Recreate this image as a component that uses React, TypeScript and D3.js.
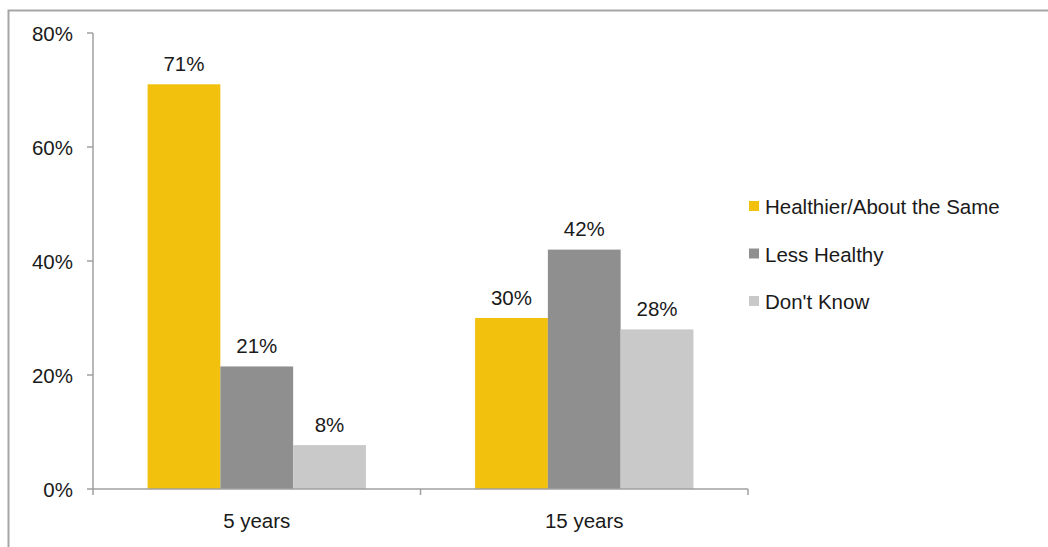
import React from "react";
import * as d3 from "d3";

const categories = ["5 years", "15 years"];
const seriesNames = ["Healthier/About the Same", "Less Healthy", "Don't Know"];
const healthier = [71, 30];
const lessHealthy = [21.5, 42];
const dontKnow = [7.7, 28];
const labels = [
  ["71%", "30%"],
  ["21%", "42%"],
  ["8%", "28%"],
];
const yTicks = [0, 20, 40, 60, 80];
const colors = ["#F2C10E", "#8F8F8F", "#C9C9C9"];

export default function App() {
  const W = 1048, H = 547;
  const series = [healthier, lessHealthy, dontKnow];
  const x0 = d3.scaleBand<string>().domain(categories).range([93, 748]).paddingInner(0).paddingOuter(0);
  const x1 = d3.scaleBand<number>().domain([0, 1, 2]).range([0, x0.bandwidth()]).paddingOuter(0.75).paddingInner(0);
  const y = d3.scaleLinear().domain([0, 80]).range([489, 33]);
  const font = "'Liberation Sans', Arial, Helvetica, sans-serif";
  const axisColor = "#A0A0A0";
  const fs = 20.5;
  return (
    <svg width={W} height={H} style={{ position: "absolute", left: 0, top: 0 }} fontFamily={font}>
      <rect x={0} y={0} width={W} height={H} fill="#fff" />
      <rect x={8.5} y={10.5} width={W + 20} height={H + 20} fill="none" stroke="#A6A6A6" strokeWidth={2} />
      {/* y axis */}
      <line x1={93} x2={93} y1={y(80)} y2={y(0)} stroke={axisColor} strokeWidth={1.5} />
      {yTicks.map((t) => (
        <g key={t}>
          <line x1={87} x2={93} y1={y(t)} y2={y(t)} stroke={axisColor} strokeWidth={1.5} />
          <text x={73} y={y(t) + 8} textAnchor="end" fontSize={fs} fill="#1a1a1a">{t}%</text>
        </g>
      ))}
      {/* bars */}
      {categories.map((c, ci) =>
        series.map((s, si) => {
          const bx = (x0(c) as number) + (x1(si) as number);
          const bw = x1.bandwidth();
          return (
            <g key={c + si}>
              <rect x={bx} y={y(s[ci])} width={bw} height={y(0) - y(s[ci])} fill={colors[si]} />
              <text x={bx + bw / 2} y={y(s[ci]) - 13.5} textAnchor="middle" fontSize={fs} fill="#1a1a1a">{labels[si][ci]}</text>
            </g>
          );
        })
      )}
      {/* x axis */}
      <line x1={93} x2={748} y1={y(0)} y2={y(0)} stroke={axisColor} strokeWidth={1.5} />
      {[93, 420.5, 748].map((tx, i) => (
        <line key={i} x1={tx} x2={tx} y1={y(0)} y2={y(0) + 6} stroke={axisColor} strokeWidth={1.5} />
      ))}
      {categories.map((c) => (
        <text key={c} x={(x0(c) as number) + x0.bandwidth() / 2} y={528} textAnchor="middle" fontSize={fs} fill="#1a1a1a">{c}</text>
      ))}
      {/* legend */}
      {seriesNames.map((n, i) => (
        <g key={n}>
          <rect x={749} y={201 + i * 47.5} width={10} height={10} fill={colors[i]} />
          <text x={765} y={214 + i * 47.5} fontSize={fs} fill="#1a1a1a">{n}</text>
        </g>
      ))}
    </svg>
  );
}
